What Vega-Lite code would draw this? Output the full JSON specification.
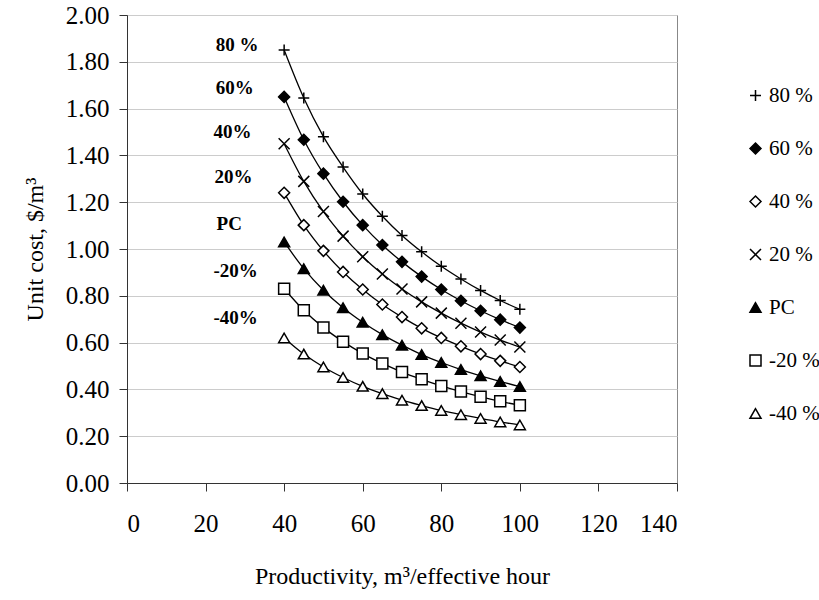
{
  "$schema": "https://vega.github.io/schema/vega-lite/v6.json",
  "autosize": {"type": "none"},
  "width": 550,
  "height": 468,
  "padding": {"left": 127, "top": 15, "right": 142, "bottom": 117},
  "background": "white",
  "config": {
    "font": "Liberation Serif",
    "view": {"stroke": "#888888", "strokeWidth": 1},
    "axis": {
      "labelFont": "Liberation Serif",
      "titleFont": "Liberation Serif",
      "labelFontSize": 25,
      "titleFontSize": 24,
      "titleFontWeight": "normal",
      "labelColor": "black",
      "titleColor": "black",
      "domainColor": "#333333",
      "tickColor": "#333333",
      "tickSize": 8,
      "gridColor": "#cccccc",
      "gridWidth": 1
    },
    "legend": {
      "labelFont": "Liberation Serif",
      "labelFontSize": 21,
      "labelColor": "black"
    }
  },
  "datasets": {
    "curves": [
      {"s": "80 %", "x": 40, "y": 1.85}, {"s": "80 %", "x": 45, "y": 1.645}, {"s": "80 %", "x": 50, "y": 1.48}, {"s": "80 %", "x": 55, "y": 1.35}, {"s": "80 %", "x": 60, "y": 1.235}, {"s": "80 %", "x": 65, "y": 1.14}, {"s": "80 %", "x": 70, "y": 1.058}, {"s": "80 %", "x": 75, "y": 0.988}, {"s": "80 %", "x": 80, "y": 0.926}, {"s": "80 %", "x": 85, "y": 0.872}, {"s": "80 %", "x": 90, "y": 0.823}, {"s": "80 %", "x": 95, "y": 0.78}, {"s": "80 %", "x": 100, "y": 0.742},
      {"s": "60 %", "x": 40, "y": 1.65}, {"s": "60 %", "x": 45, "y": 1.467}, {"s": "60 %", "x": 50, "y": 1.322}, {"s": "60 %", "x": 55, "y": 1.202}, {"s": "60 %", "x": 60, "y": 1.102}, {"s": "60 %", "x": 65, "y": 1.017}, {"s": "60 %", "x": 70, "y": 0.945}, {"s": "60 %", "x": 75, "y": 0.882}, {"s": "60 %", "x": 80, "y": 0.827}, {"s": "60 %", "x": 85, "y": 0.779}, {"s": "60 %", "x": 90, "y": 0.736}, {"s": "60 %", "x": 95, "y": 0.698}, {"s": "60 %", "x": 100, "y": 0.664},
      {"s": "40 %", "x": 40, "y": 1.24}, {"s": "40 %", "x": 45, "y": 1.102}, {"s": "40 %", "x": 50, "y": 0.992}, {"s": "40 %", "x": 55, "y": 0.902}, {"s": "40 %", "x": 60, "y": 0.827}, {"s": "40 %", "x": 65, "y": 0.763}, {"s": "40 %", "x": 70, "y": 0.709}, {"s": "40 %", "x": 75, "y": 0.661}, {"s": "40 %", "x": 80, "y": 0.62}, {"s": "40 %", "x": 85, "y": 0.584}, {"s": "40 %", "x": 90, "y": 0.551}, {"s": "40 %", "x": 95, "y": 0.522}, {"s": "40 %", "x": 100, "y": 0.496},
      {"s": "20 %", "x": 40, "y": 1.45}, {"s": "20 %", "x": 45, "y": 1.289}, {"s": "20 %", "x": 50, "y": 1.16}, {"s": "20 %", "x": 55, "y": 1.055}, {"s": "20 %", "x": 60, "y": 0.967}, {"s": "20 %", "x": 65, "y": 0.893}, {"s": "20 %", "x": 70, "y": 0.829}, {"s": "20 %", "x": 75, "y": 0.774}, {"s": "20 %", "x": 80, "y": 0.726}, {"s": "20 %", "x": 85, "y": 0.683}, {"s": "20 %", "x": 90, "y": 0.645}, {"s": "20 %", "x": 95, "y": 0.611}, {"s": "20 %", "x": 100, "y": 0.581},
      {"s": "PC", "x": 40, "y": 1.03}, {"s": "PC", "x": 45, "y": 0.916}, {"s": "PC", "x": 50, "y": 0.824}, {"s": "PC", "x": 55, "y": 0.749}, {"s": "PC", "x": 60, "y": 0.687}, {"s": "PC", "x": 65, "y": 0.634}, {"s": "PC", "x": 70, "y": 0.589}, {"s": "PC", "x": 75, "y": 0.549}, {"s": "PC", "x": 80, "y": 0.515}, {"s": "PC", "x": 85, "y": 0.485}, {"s": "PC", "x": 90, "y": 0.458}, {"s": "PC", "x": 95, "y": 0.434}, {"s": "PC", "x": 100, "y": 0.412},
      {"s": "-20 %", "x": 40, "y": 0.83}, {"s": "-20 %", "x": 45, "y": 0.738}, {"s": "-20 %", "x": 50, "y": 0.664}, {"s": "-20 %", "x": 55, "y": 0.604}, {"s": "-20 %", "x": 60, "y": 0.553}, {"s": "-20 %", "x": 65, "y": 0.511}, {"s": "-20 %", "x": 70, "y": 0.474}, {"s": "-20 %", "x": 75, "y": 0.443}, {"s": "-20 %", "x": 80, "y": 0.415}, {"s": "-20 %", "x": 85, "y": 0.391}, {"s": "-20 %", "x": 90, "y": 0.369}, {"s": "-20 %", "x": 95, "y": 0.349}, {"s": "-20 %", "x": 100, "y": 0.332},
      {"s": "-40 %", "x": 40, "y": 0.62}, {"s": "-40 %", "x": 45, "y": 0.551}, {"s": "-40 %", "x": 50, "y": 0.496}, {"s": "-40 %", "x": 55, "y": 0.451}, {"s": "-40 %", "x": 60, "y": 0.413}, {"s": "-40 %", "x": 65, "y": 0.382}, {"s": "-40 %", "x": 70, "y": 0.354}, {"s": "-40 %", "x": 75, "y": 0.331}, {"s": "-40 %", "x": 80, "y": 0.31}, {"s": "-40 %", "x": 85, "y": 0.292}, {"s": "-40 %", "x": 90, "y": 0.276}, {"s": "-40 %", "x": 95, "y": 0.261}, {"s": "-40 %", "x": 100, "y": 0.248}
    ],
    "labels": [
      {"t": "80 %", "x": 22.6, "y": 1.872},
      {"t": "60%", "x": 22.6, "y": 1.688},
      {"t": "40%", "x": 22.0, "y": 1.5},
      {"t": "20%", "x": 22.3, "y": 1.308},
      {"t": "PC", "x": 22.8, "y": 1.107},
      {"t": "-20%", "x": 22.0, "y": 0.906},
      {"t": "-40%", "x": 22.0, "y": 0.705}
    ]
  },
  "layer": [
    {
      "data": {"name": "curves"},
      "mark": {"type": "line", "interpolate": "monotone", "color": "black", "strokeWidth": 1.3},
      "encoding": {
        "x": {
          "field": "x", "type": "quantitative",
          "scale": {"domain": [0, 140], "nice": false, "zero": false},
          "axis": {"values": [0, 20, 40, 60, 80, 100, 120, 140], "grid": false, "labelPadding": 20, "title": "Productivity, m³/effective hour", "titlePadding": 28}
        },
        "y": {
          "field": "y", "type": "quantitative",
          "scale": {"domain": [0, 2], "nice": false},
          "axis": {"values": [0, 0.2, 0.4, 0.6, 0.8, 1.0, 1.2, 1.4, 1.6, 1.8, 2.0], "format": ".2f", "grid": true, "labelPadding": 10, "title": "Unit cost, $/m³", "titlePadding": 18}
        },
        "detail": {"field": "s"}
      }
    },
    {
      "data": {"name": "curves"},
      "mark": {"type": "point", "filled": false, "stroke": "black", "strokeWidth": 1.5, "opacity": 1},
      "encoding": {
        "x": {"field": "x", "type": "quantitative"},
        "y": {"field": "y", "type": "quantitative"},
        "shape": {
          "field": "s", "type": "nominal",
          "scale": {
            "domain": ["80 %", "60 %", "40 %", "20 %", "PC", "-20 %", "-40 %"],
            "range": ["M-1,0L1,0M0,-1L0,1", "diamond", "diamond", "M-1,-1L1,1M-1,1L1,-1", "triangle-up", "square", "triangle-up"]
          },
          "legend": {"title": null, "orient": "none", "legendX": 618, "legendY": 70, "rowPadding": 31, "labelOffset": 3,
            "encode": {"symbols": {"update": {"stroke": {"value": "black"}, "strokeWidth": {"value": 1.5}, "opacity": {"value": 1}}}}}
        },
        "fill": {
          "field": "s", "type": "nominal",
          "scale": {
            "domain": ["80 %", "60 %", "40 %", "20 %", "PC", "-20 %", "-40 %"],
            "range": ["black", "black", "white", "black", "black", "white", "white"]
          },
          "legend": {"title": null, "orient": "none", "legendX": 618, "legendY": 70, "rowPadding": 31, "labelOffset": 3,
            "encode": {"symbols": {"update": {"stroke": {"value": "black"}, "strokeWidth": {"value": 1.5}, "opacity": {"value": 1}}}}}
        },
        "size": {
          "field": "s", "type": "nominal",
          "scale": {
            "domain": ["80 %", "60 %", "40 %", "20 %", "PC", "-20 %", "-40 %"],
            "range": [121, 121, 90, 144, 130, 85, 130]
          },
          "legend": {"title": null, "orient": "none", "legendX": 618, "legendY": 70, "rowPadding": 31, "labelOffset": 3,
            "encode": {"symbols": {"update": {"stroke": {"value": "black"}, "strokeWidth": {"value": 1.5}, "opacity": {"value": 1}}}}}
        }
      }
    },
    {
      "data": {"name": "labels"},
      "mark": {"type": "text", "font": "Liberation Serif", "fontWeight": "bold", "fontSize": 19, "align": "left", "baseline": "middle", "color": "black"},
      "encoding": {
        "x": {"field": "x", "type": "quantitative"},
        "y": {"field": "y", "type": "quantitative"},
        "text": {"field": "t"}
      }
    }
  ]
}
